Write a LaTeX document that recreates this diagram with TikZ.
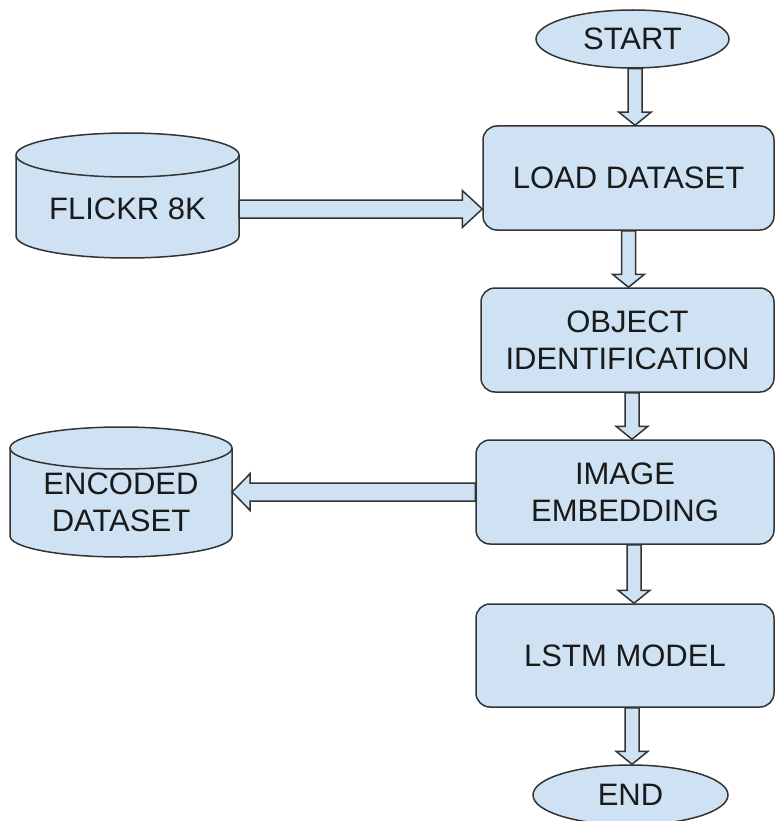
\documentclass[tikz,border=0pt]{standalone}
\usepackage{fontspec}
\setmainfont{Liberation Sans}
\usetikzlibrary{calc,shapes.geometric}
\definecolor{fillb}{HTML}{CFE2F3}
\definecolor{strk}{HTML}{333333}
\definecolor{txtc}{HTML}{1A1A1A}
\tikzset{
  txtfont/.style={font=\fontsize{31}{37}\selectfont, text=txtc},
  base/.style={draw=strk, fill=fillb, line width=1.5pt, txtfont, align=center, inner sep=0pt},
  procbox/.style={base, rectangle, rounded corners=14pt},
  term/.style={base, ellipse},
  cylnode/.style={txtfont, align=center, inner sep=0pt, minimum height=40pt},
  cylshape/.style={draw=strk, fill=fillb, line width=1.5pt},
  blk/.style={draw=strk, fill=fillb, line width=1.5pt, line join=miter},
}
% vertical block arrow: source, target, xshift
\newcommand\vblk[3]{%
  \draw[blk] let \p1=([xshift=#3]#1.south), \p2=(#2.north) in
    (\x1-7pt,\y1) -- (\x1+7pt,\y1) -- (\x1+7pt,\y2+13pt) -- (\x1+16pt,\y2+13pt)
    -- (\x1,\y2) -- (\x1-16pt,\y2+13pt) -- (\x1-7pt,\y2+13pt) -- cycle;}
% cylinder around a node: name, rx, top offset, bottom offset, ry
\newcommand\cylbody[5]{%
  \draw[cylshape] let \p1=(#1.center) in
    (\x1-#2,\y1+#3-#5) -- (\x1-#2,\y1-#4+#5)
    arc[start angle=180,end angle=360,x radius=#2,y radius=#5]
    -- (\x1+#2,\y1+#3-#5)
    arc[start angle=0,end angle=180,x radius=#2,y radius=#5] -- cycle;
  \draw[cylshape, fill=none] let \p1=(#1.center) in
    (\x1-#2,\y1+#3-#5) arc[start angle=180,end angle=360,x radius=#2,y radius=#5];}
\begin{document}
\begin{tikzpicture}[x=1pt,y=-1pt]
\useasboundingbox (0,0) rectangle (775,821);
% cylinders
\path (127.5,209) coordinate (flickrc);
\path (121,502) coordinate (encodedc);
\cylbody{flickrc}{111.5pt}{76pt}{49pt}{22pt}
\cylbody{encodedc}{111pt}{75pt}{55pt}{21pt}
\node[cylnode, minimum width=223pt] (flickr) at (flickrc) {FLICKR 8K};
\node[cylnode, minimum width=222pt] (encoded) at (encodedc) {ENCODED\\DATASET};
% flow nodes
\node[term, minimum width=193pt, minimum height=58pt] (start) at (632.5,39) {START};
\node[procbox, minimum width=291pt, minimum height=104pt] (load) at (628.5,178) {LOAD DATASET};
\node[procbox, minimum width=293pt, minimum height=104pt] (obj) at (627.5,340) {OBJECT\\IDENTIFICATION};
\node[procbox, minimum width=298pt, minimum height=104pt] (img) at (625,492) {IMAGE\\EMBEDDING};
\node[procbox, minimum width=298pt, minimum height=103pt] (lstm) at (625,655.5) {LSTM MODEL};
\node[term, minimum width=195pt, minimum height=60pt] (end) at (630.5,795) {END};
% vertical arrows
\vblk{start}{load}{2.5pt}
\vblk{load}{obj}{0pt}
\vblk{obj}{img}{4.5pt}
\vblk{img}{lstm}{9pt}
\vblk{lstm}{end}{7pt}
% horizontal arrows
\draw[blk] let \p1=(flickr.east), \p2=(load.west) in
  (\x1,\y1+9pt) -- (\x2-20pt,\y1+9pt) -- (\x2-20pt,\y1+18.5pt) -- (\x2,\y1)
  -- (\x2-20pt,\y1-18.5pt) -- (\x2-20pt,\y1-9pt) -- (\x1,\y1-9pt) -- cycle;
\draw[blk] let \p1=(img.west), \p2=(encoded.east) in
  (\x1,\y1+9pt) -- (\x2+18pt,\y1+9pt) -- (\x2+18pt,\y1+18.5pt) -- (\x2,\y1)
  -- (\x2+18pt,\y1-18.5pt) -- (\x2+18pt,\y1-9pt) -- (\x1,\y1-9pt) -- cycle;
\end{tikzpicture}
\end{document}
